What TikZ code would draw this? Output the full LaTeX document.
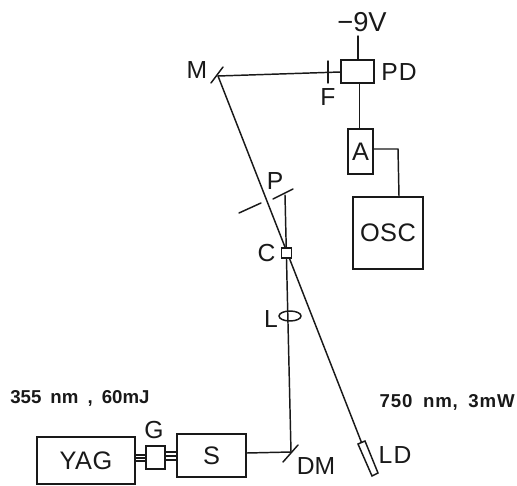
\documentclass[tikz,border=0pt]{standalone}
\usepackage{fontspec}
\setmainfont{Liberation Sans}
\newfontfamily\captfont[WordSpace=1.75]{Liberation Sans}
\usetikzlibrary{calc}
\newlength{\pxu}
\setlength{\pxu}{0.75pt}
\definecolor{ink}{gray}{0.1}
\tikzset{
  x=0.75pt,y=-0.75pt,
  ln/.style={line width=1.1pt,ink,line cap=round},
  boxn/.style 2 args={draw=ink,line width=1.1pt,inner sep=0pt,text=ink,minimum width=#1*\pxu,minimum height=#2*\pxu,font=\fontsize{19pt}{20pt}\selectfont},
  lab/.style={font=\fontsize{18.5pt}{19pt}\selectfont,inner sep=0pt,text=ink},
  capt/.style={font=\captfont\bfseries\fontsize{14pt}{15pt}\selectfont,inner sep=0pt,text=ink},
}
\begin{document}
\begin{tikzpicture}
\useasboundingbox (0,0) rectangle (517,485);
% boxes
\node[boxn={98}{47}] (yag) at (86,460.5) {\addfontfeature{LetterSpace=2}YAG};
\node[boxn={19}{23}] (g) at (155.5,457.5) {};
\node[boxn={69}{43}] (s) at (211.5,455.5) {S};
\node[boxn={33}{23}] (pd) at (357.5,71.5) {};
\node[boxn={25}{45}] (a) at (360.5,151.5) {A};
\node[boxn={70}{72}] (osc) at (388,233) {\addfontfeature{LetterSpace=2}OSC};
% labels
\node[lab] at (154,430) {G};
\node[lab,font=\fontsize{20.5pt}{21pt}\selectfont] (vt) at (362,22) {−9V};
\node[lab] at (197,70) {M};
\node[lab] at (328,97) {F};
\node[lab] at (399,72.5) {\addfontfeature{LetterSpace=5}PD};
\node[lab] at (275,181) {P};
\node[lab] at (266.5,253.5) {C};
\node[lab] at (271,319) {L};
\node[lab] at (316,466) {DM};
\node[lab] at (395,455) {\addfontfeature{LetterSpace=6}LD};
\node[capt,anchor=west] at (10,398) {355 nm , 60mJ};
\node[capt,anchor=east] at (515,402) {\addfontfeature{LetterSpace=4.5}750 nm, 3mW};
% beam junctions
\coordinate (m) at (218,76);
\coordinate (dm) at (291,452);
\coordinate (pb) at (285,195);
\coordinate (ldt) at (361.5,442.5);
\coordinate (vtop) at (358,36);
% connectors
\draw[ln] (dm) -- (pb);
\draw[ln] (s.east|-0,453) -- (dm);
\draw[ln] (ldt) -- (m);
\draw[ln] (m) -- (pd.west|-0,72);
\draw[ln] (vtop) -- (pd.north-|vtop);
\draw[ln] (359.5,83) -- (a.north-|359.5,0);
\draw[ln] (a.east|-0,149) -- (398,149) -- (osc.north-|399,0);
\foreach \yy in {455,458,461}{\draw[line width=0.9pt,ink] (yag.east|-0,\yy) -- (g.west|-0,\yy);}
\foreach \yy in {452,456,460}{\draw[line width=0.9pt,ink] (g.east|-0,\yy) -- (s.west|-0,\yy);}
% mirrors, filter
\draw[ln] (211,83) -- (223,67);
\draw[ln] (328,61) -- (328,83);
\draw[ln] (283,462) -- (298,445);
\draw[ln] (239,213) -- (261,203);
\draw[ln] (273,199) -- (293,189);
% crystal, lens, diode
\node[draw=ink,line width=1.1pt,minimum width=10.5*\pxu,minimum height=10*\pxu,inner sep=0pt,fill=white] (cb) at (286.5,253) {};
\draw[ln] (290,316) ellipse (11 and 5);
\draw[ln,fill=white] (358,444) -- (365,441) -- (378,473) -- (372,476) -- cycle;
\end{tikzpicture}
\end{document}
